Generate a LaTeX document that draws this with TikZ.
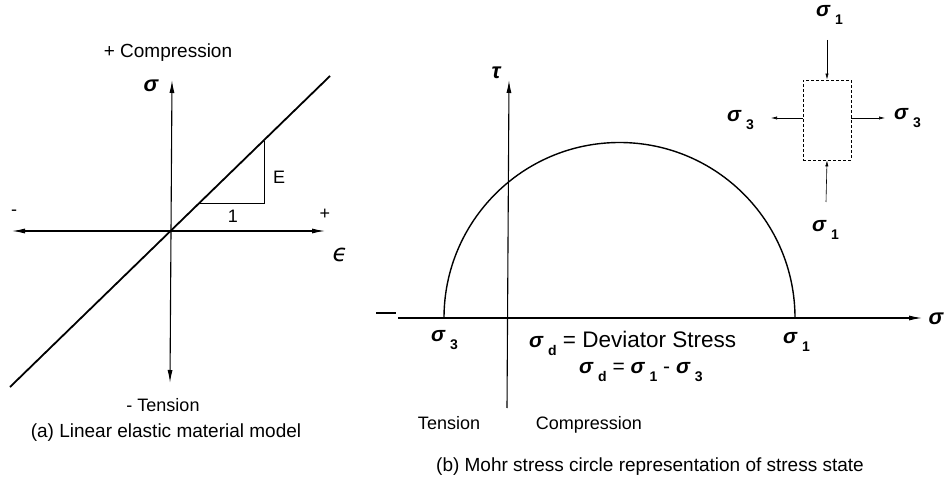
\documentclass[tikz,border=0pt]{standalone}
\usepackage{fontspec}
\setmainfont{Liberation Sans}
\newfontfamily\grk{DejaVu Sans}
\usetikzlibrary{arrows.meta}
\newcommand\sgm[1]{{\fontsize{21}{21}\selectfont\bfseries\itshape σ}\kern5pt\raisebox{-8pt}{\fontsize{14}{14}\selectfont\bfseries #1}}
\begin{document}
\begin{tikzpicture}[x=1pt,y=1pt,
  txt/.style={font=\fontsize{18}{20}\selectfont, inner sep=0pt},
  bigtxt/.style={font=\fontsize{21}{24}\selectfont, inner sep=0pt},
  captxt/.style={font=\fontsize{19}{22}\selectfont, inner sep=0pt},
  axis/.style={line width=1.1pt},
  bigtip/.style={-{Latex[length=13pt,width=5pt]}},
  bothtip/.style={{Latex[length=13pt,width=5pt]}-{Latex[length=13pt,width=5pt]}},
  smalltip/.style={-{Latex[length=6pt,width=3.2pt]}},
  thinline/.style={line width=0.6pt},
  curve/.style={line width=1.4pt}]
\useasboundingbox (0,0) rectangle (945,477);

% ---------- panel (a) ----------
\coordinate (vtop) at (172,397);
\coordinate (vbot) at (170,94);
\coordinate (hleft) at (12,246);
\coordinate (hright) at (325,246);
\coordinate (dlo) at (10,90);
\coordinate (dhi) at (330,401);
\coordinate (ta) at (200,274);
\coordinate (tb) at (264,274);
\coordinate (tc) at (264,336);
\draw[axis,bothtip] (vbot) -- (vtop);
\draw[axis,bothtip] (hleft) -- (hright);
\draw[line width=1.8pt] (dlo) -- (dhi);
\draw[thinline] (ta) -- (tb) -- (tc);

\node[txt] (lE) at (279,300) {E};
\node[txt] (l1) at (233,261) {1};
\node[txt] (lplus) at (325,263) {+};
\node[txt] (lminus) at (14,264) {-};
\node[inner sep=0pt,font=\fontsize{24}{24}\selectfont\grk\itshape] (leps) at (340,222) {ϵ};
\node[inner sep=0pt,font=\fontsize{22}{22}\selectfont\bfseries\itshape] (lsig) at (151,391) {σ};
\node[captxt] (lcomp) at (168,424) {+ Compression};
\node[txt] (lten) at (163,72) {- Tension};
\node[captxt] (capa) at (166,44) {(a) Linear elastic material model};

% ---------- panel (b) ----------
\coordinate (sleft) at (398,159);
\coordinate (sright) at (922,159);
\coordinate (dashA) at (376,164);
\coordinate (dashB) at (396,164);
\coordinate (tbot) at (507,69);
\coordinate (ttop) at (509,397);
\coordinate (cleft) at (444,159);
\draw[axis,bigtip] (sleft) -- (sright);
\draw[axis] (dashA) -- (dashB);
\draw[axis,bigtip] (tbot) -- (ttop);
\draw[curve] (cleft) arc[start angle=180,end angle=0,radius=175.5];

\node[inner sep=0pt,font=\fontsize{22}{22}\selectfont\bfseries\itshape] (ltau) at (496,404) {τ};
\node[inner sep=0pt,font=\fontsize{22}{22}\selectfont\bfseries\itshape] (lsigax) at (936,158) {σ};

\node[txt,anchor=west] (s3) at (431,137) {\sgm{3}};
\node[txt,anchor=west] (s1) at (783,135) {\sgm{1}};
\node[bigtxt,anchor=west,font=\fontsize{22.5}{24}\selectfont] (dev) at (529,134) {\sgm{d} = Deviator Stress};
\node[bigtxt] (deq) at (641,105) {\sgm{d} = \sgm{1} - \sgm{3}};
\node[txt,anchor=base] (lten2) at (449,48) {Tension};
\node[txt,anchor=base] (lcomp2) at (589,48) {Compression};
\node[captxt] (capb) at (650,10) {(b) Mohr stress circle representation of stress state};

% stress element
\node[draw,densely dashed,line width=0.7pt,minimum width=48pt,minimum height=80pt,inner sep=0pt] (box) at (827,357) {};
\coordinate (topS) at (827,437);
\coordinate (botS) at (826,275);
\coordinate (leftE) at (771,359);
\coordinate (rightE) at (885,359);
\draw[thinline,smalltip] (topS) -- (box.north);
\draw[thinline,smalltip] (botS) -- (box.south);
\draw[thinline,smalltip] (box.west |- leftE) -- (leftE);
\draw[thinline,smalltip] (box.east |- rightE) -- (rightE);
\node[txt,anchor=west] (e1t) at (816,462) {\sgm{1}};
\node[txt,anchor=west] (e1b) at (812,247) {\sgm{1}};
\node[txt,anchor=west] (e3l) at (727,357) {\sgm{3}};
\node[txt,anchor=west] (e3r) at (894,359) {\sgm{3}};
\end{tikzpicture}
\end{document}
